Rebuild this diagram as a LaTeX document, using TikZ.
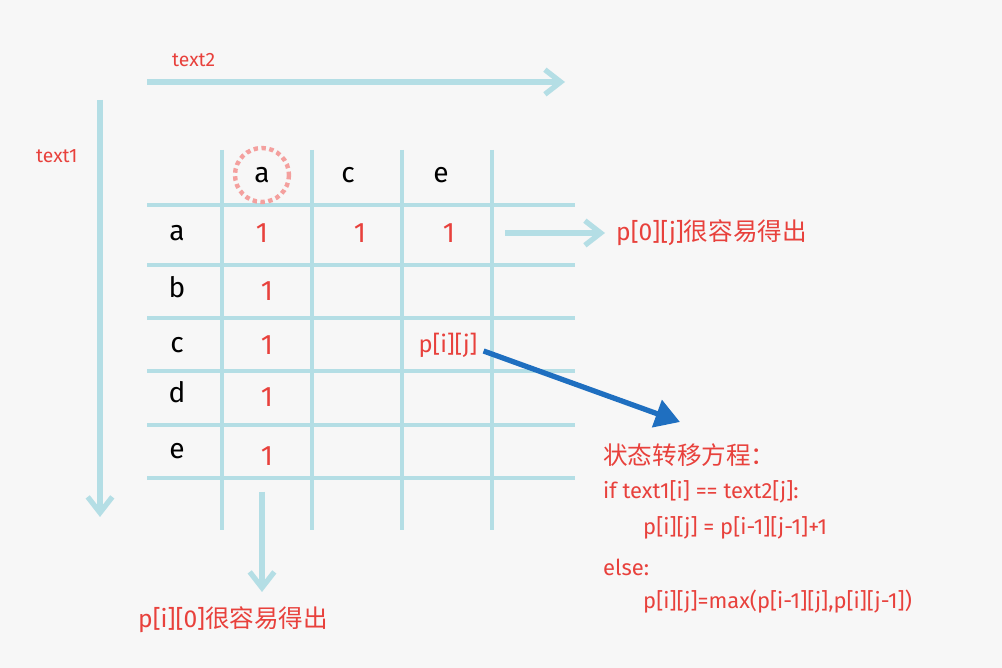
\documentclass[tikz,border=0pt]{standalone}
\usepackage{fontspec}
\setmainfont{Fira Sans}
\newfontfamily\cjk{Noto Sans CJK SC}
\usetikzlibrary{arrows.meta}
\definecolor{gridcyan}{HTML}{B4DEE5}
\definecolor{redtext}{HTML}{E8413C}
\definecolor{bluearrow}{HTML}{1F6FC0}
\tikzset{
  gridline/.style={gridcyan,line width=2.2pt},
  cyanarrow/.style={gridcyan,line width=3pt,-{Straight Barb[length=9pt,width=14pt]}},
  lbl/.style={font=\fontsize{16}{18}\selectfont},
  one/.style={redtext,font=\fontsize{16}{18}\selectfont},
  note/.style={redtext,font=\fontsize{14}{16}\selectfont,anchor=west},
  code/.style={redtext,font=\fontsize{12.5}{14}\selectfont,anchor=west}
}
\begin{document}
\begin{tikzpicture}[x=0.02cm,y=-0.02cm]
    \useasboundingbox[fill=gray!6] (0,0) rectangle (1002,668);
    % grid
    \foreach \y in {205,265,318,371,425,478}{
      \draw[gridline] (147,\y) -- (575,\y);
    }
    \foreach \x in {222,312,402,492}{
      \draw[gridline] (\x,150) -- (\x,530);
    }
    % axes
    \coordinate (t2s) at (147,82);
    \coordinate (t2e) at (565,82);
    \coordinate (t1s) at (100,100);
    \coordinate (t1e) at (100,517);
    \draw[cyanarrow] (t2s) -- (t2e);
    \draw[cyanarrow] (t1s) -- (t1e);
    \node[note,font=\fontsize{11}{13}\selectfont] (text2) at (166,60) {text2};
    \node[note,font=\fontsize{11}{13}\selectfont] (text1) at (30,156) {text1};

    % headers
    \draw[redtext!50,dotted,line width=2.5pt] (262,175) circle (27);
    \foreach \x/\c in {262/a,348/c,441/e}{
      \node[lbl] (col\c) at (\x,175) {\c};
    }
    \foreach \y/\r in {233/a,287/b,345/c,392/d,451/e}{
      \node[lbl] (row\r) at (177,\y) {\r};
    }
    % values
    \foreach \x/\n in {262/1,360/2,449/3}{
      \node[one] (top\n) at (\x,233) {1};
    }
    \foreach \y/\n in {291/b,345/c,397/d,456/e}{
      \node[one] (left\n) at (267,\y) {1};
    }
    \node[redtext,font=\fontsize{13.5}{15}\selectfont] (pij) at (448,345) {p[i][j]};

    % notes
    \coordinate (ra) at (505,233);
    \coordinate (rb) at (605,233);
    \draw[cyanarrow] (ra) -- (rb);
    \node[note] (row0) at (610,233) {p[0][j]{\cjk 很容易得出}};
    \coordinate (ba) at (262,492);
    \coordinate (bb) at (262,592);
    \draw[cyanarrow] (ba) -- (bb);
    \node[note] (col0) at (132,620) {p[i][0]{\cjk 很容易得出}};
    \coordinate (ce) at (680,422);
    \draw[bluearrow,line width=3pt,-{Triangle[length=14pt,width=16pt]}] (pij.east) ++(0,6) -- (ce);

    % transition
    \node[note] (eq) at (597,455) {\cjk 状态转移方程：};
    \node[code] (c1) at (597,492) {if text1[i] == text2[j]:};
    \node[code] (c2) at (637,528) {p[i][j] = p[i-1][j-1]+1};
    \node[code] (c3) at (597,567) {else:};
    \node[code] (c4) at (637,602) {p[i][j]=max(p[i-1][j],p[i][j-1])};
\end{tikzpicture}
\end{document}
